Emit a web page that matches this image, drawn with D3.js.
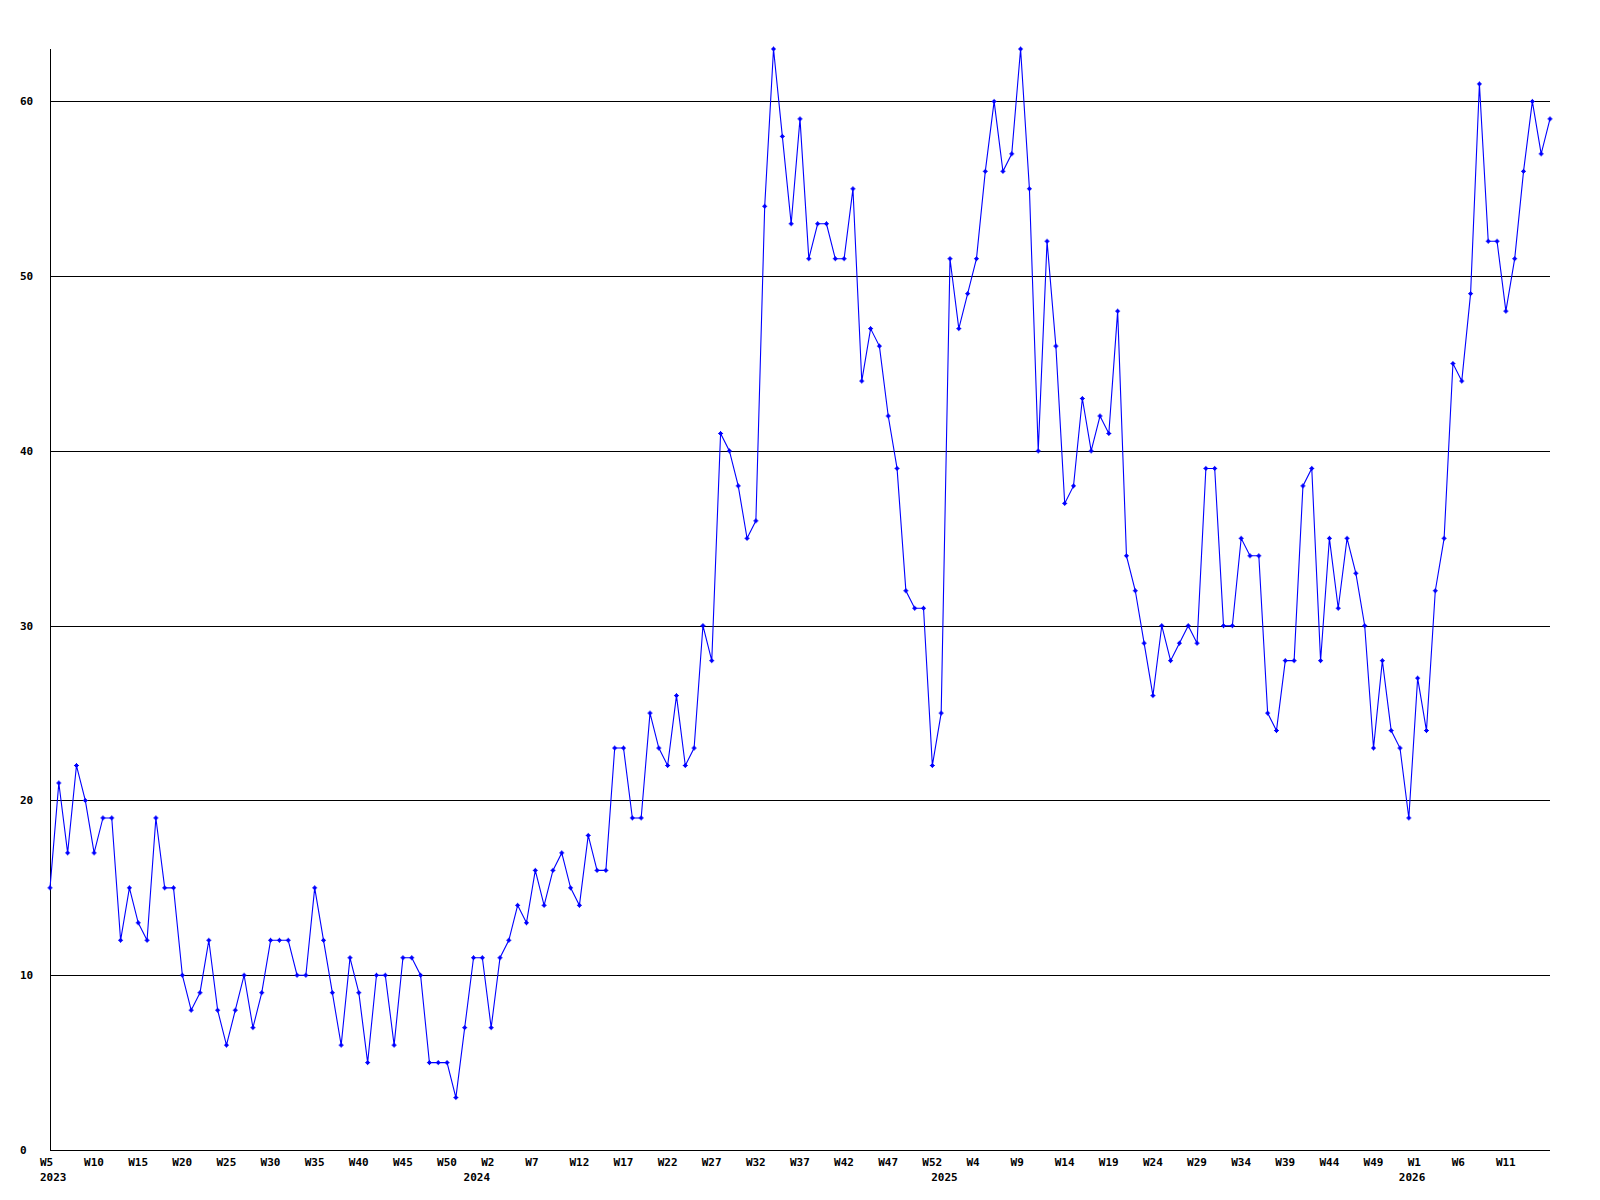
<!DOCTYPE html>
<html>
<head>
<meta charset="utf-8">
<script src="https://cdn.jsdelivr.net/npm/d3@7"></script>
<style>
  html, body { margin: 0; padding: 0; background: #ffffff; }
  svg { display: block; }
  text { font-family: "DejaVu Sans Mono", "Liberation Mono", monospace; font-weight: bold; font-size: 11px; fill: #000; }
</style>
</head>
<body>
<svg id="chart" width="1600" height="1200"></svg>
<script>
// Weekly values, 2023 W5 onward (171 points)
const values = [
  15,21,17,22,20,17,19,19,12,15,13,12,19,15,15,10,8,9,12,8,6,8,10,7,9,
  12,12,12,10,10,15,12,9,6,11,9,5,10,10,6,11,11,10,5,5,5,3,7,
  11,11,7,11,12,14,13,16,14,16,17,15,14,18,16,16,23,23,19,19,25,23,22,
  26,22,23,30,28,41,40,38,35,36,54,63,58,53,59,51,53,53,51,51,55,
  44,47,46,42,39,32,31,31,22,25,51,47,49,51,56,60,56,57,63,55,40,
  52,46,37,38,43,40,42,41,48,34,32,29,26,30,28,29,30,29,39,39,30,30,
  35,34,34,25,24,28,28,38,39,28,35,31,35,33,30,23,28,24,23,19,
  27,24,32,35,45,44,49,61,52,52,48,51,56,60,57,59
];

// x tick labels (week) and the point index each one sits on
const weekTickLabels = ["W5","W10","W15","W20","W25","W30","W35","W40","W45","W50",
  "W2","W7","W12","W17","W22","W27","W32","W37","W42","W47","W52",
  "W4","W9","W14","W19","W24","W29","W34","W39","W44","W49",
  "W1","W6","W11"];
const weekTickIndex = [0,5,10,15,20,25,30,35,40,45,
  50,55,60,65,70,75,80,85,90,95,100,
  105,110,115,120,125,130,135,140,145,150,
  155,160,165];

// year labels and the point index where each year begins
const yearLabels = ["2023","2024","2025","2026"];
const yearIndex = [0,48,101,154];

// y axis ticks
const yTicks = [0,10,20,30,40,50,60];

const svg = d3.select("#chart");
const mLeft = 50, mRight = 1550, mTop = 49, mBottom = 1150;

const x = d3.scaleLinear().domain([0, values.length - 1]).range([mLeft, mRight]);
const y = d3.scaleLinear().domain([0, d3.max(values)]).range([mBottom, mTop]);

const crisp = v => Math.round(v) + 0.5;

// gridlines
svg.append("g").selectAll("line").data(yTicks.filter(d => d > 0)).join("line")
  .attr("x1", mLeft).attr("x2", mRight)
  .attr("y1", d => crisp(y(d))).attr("y2", d => crisp(y(d)))
  .attr("stroke", "#000").attr("stroke-width", 1).attr("shape-rendering", "crispEdges");

// axes lines
svg.append("line").attr("x1", crisp(mLeft)).attr("x2", crisp(mLeft))
  .attr("y1", mTop).attr("y2", crisp(mBottom))
  .attr("stroke", "#000").attr("shape-rendering", "crispEdges");
svg.append("line").attr("x1", mLeft).attr("x2", mRight)
  .attr("y1", crisp(mBottom)).attr("y2", crisp(mBottom))
  .attr("stroke", "#000").attr("shape-rendering", "crispEdges");

// y labels
svg.append("g").selectAll("text").data(yTicks).join("text")
  .attr("x", 20).attr("y", d => y(d) + 4)
  .attr("text-anchor", "start")
  .text(d => d);

// week labels
svg.append("g").selectAll("text").data(weekTickLabels).join("text")
  .attr("x", (d, i) => x(weekTickIndex[i]) - 10)
  .attr("y", 1166)
  .attr("text-anchor", "start")
  .text(d => d);

// year labels
svg.append("g").selectAll("text").data(yearLabels).join("text")
  .attr("x", (d, i) => x(yearIndex[i]) - 10)
  .attr("y", 1181)
  .attr("text-anchor", "start")
  .text(d => d);

// line
const line = d3.line().x((d, i) => x(i)).y(d => y(d));
svg.append("path").datum(values)
  .attr("d", line)
  .attr("fill", "none")
  .attr("stroke", "#0000ff")
  .attr("stroke-width", 1.1);

// markers
const mk = svg.append("g").selectAll("g").data(values).join("g")
  .attr("transform", (d, i) => `translate(${x(i)},${y(d)})`);
mk.append("path")
  .attr("d", "M-2.5,0H2.5M0,-2.5V2.5")
  .attr("stroke", "#0000ff").attr("stroke-width", 1);
mk.append("rect")
  .attr("x", -1.5).attr("y", -1.5).attr("width", 3).attr("height", 3)
  .attr("fill", "#0000ff");
</script>
</body>
</html>
